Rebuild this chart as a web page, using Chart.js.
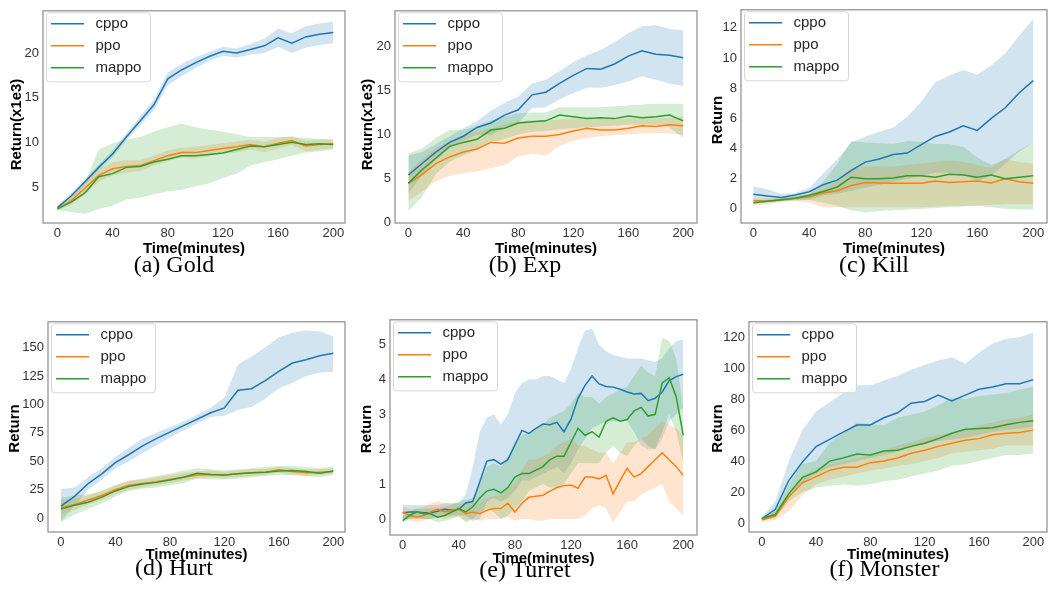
<!DOCTYPE html>
<html><head><meta charset="utf-8">
<script src="https://cdn.jsdelivr.net/npm/chart.js@4.4.1/dist/chart.umd.min.js"></script>
<style>
html,body{margin:0;padding:0;background:#fff;width:1051px;height:592px;overflow:hidden;position:relative}
canvas{position:absolute}
.cap{position:absolute;font-family:"Liberation Serif","Times New Roman",serif;font-size:24px;line-height:1;color:#000;white-space:nowrap;transform:translateX(-50%)}
</style></head><body>
<script>
// ---------------- DATA ----------------
const seriesNames = ['cppo', 'ppo', 'mappo'];
const xTicks = [0, 40, 80, 120, 160, 200];
const minutes = [0,10,20,30,40,50,60,70,80,90,100,110,120,130,140,150,160,170,180,190,200];
const turretMinutes = [0,5,10,15,20,25,30,35,40,45,50,55,60,65,70,75,80,85,90,95,100,105,110,115,120,125,130,135,140,145,150,155,160,165,170,175,180,185,190,195,200];

// (a) Gold
const goldYTicks = [5, 10, 15, 20];
const goldCppo   = [2.7,4.0,5.6,7.2,8.7,10.6,12.4,14.2,17.1,18.1,18.9,19.6,20.2,20.0,20.4,20.8,21.7,21.1,21.8,22.1,22.3];
const goldCppoHi = [2.9,4.3,5.9,7.5,9.1,11.0,12.9,14.8,17.8,18.8,19.5,20.1,20.7,20.5,21.0,21.6,22.7,22.2,23.0,23.3,23.5];
const goldCppoLo = [2.5,3.7,5.3,6.9,8.3,10.2,11.9,13.6,16.4,17.4,18.3,19.1,19.7,19.5,19.8,20.0,20.7,20.0,20.6,20.9,21.1];
const goldPpo    = [2.55,3.45,4.9,6.3,7.05,7.3,7.4,7.95,8.5,8.85,8.85,9.1,9.3,9.5,9.75,9.5,9.9,10.2,9.6,9.75,9.85];
const goldPpoHi  = [2.7,3.9,5.6,7.0,7.8,8.0,8.0,8.5,9.1,9.4,9.5,9.7,9.9,10.1,10.3,10.1,10.5,10.7,10.2,10.3,10.4];
const goldPpoLo  = [2.4,3.0,4.2,5.6,6.3,6.6,6.8,7.4,7.9,8.3,8.2,8.5,8.7,8.9,9.2,8.9,9.3,9.7,9.0,9.2,9.3];
const goldMappo   = [2.55,3.3,4.35,6.15,6.5,7.2,7.3,7.8,8.1,8.5,8.5,8.65,8.8,9.2,9.6,9.5,9.75,10.0,9.75,9.85,9.75];
const goldMappoHi = [2.7,3.8,5.5,9.2,9.9,10.3,10.6,11.2,11.7,12.1,11.7,11.4,11.2,10.9,10.6,10.6,10.6,10.6,10.5,10.4,10.3];
const goldMappoLo = [2.4,2.2,2.0,2.55,2.9,3.6,3.8,4.2,4.5,4.7,5.1,5.4,6.0,6.5,7.4,7.8,8.1,8.5,8.85,9.0,9.2];

// (b) Exp
const expYTicks = [0, 5, 10, 15, 20];
const expCppo   = [5.4,6.7,8.0,9.1,9.8,10.8,11.3,12.2,12.8,14.5,14.8,15.8,16.7,17.5,17.4,18.0,18.9,19.5,19.1,19.0,18.7];
const expCppoHi = [7.6,8.0,8.9,9.8,10.7,11.5,12.7,13.6,14.3,15.8,16.2,17.2,18.2,19.0,19.6,20.5,21.5,22.3,22.4,22.0,21.8];
const expCppoLo = [3.3,5.4,7.1,8.4,9.3,10.0,9.9,10.8,11.3,13.0,13.1,14.0,14.7,15.3,15.3,15.6,16.0,16.6,16.2,15.8,15.5];
const expPpo    = [4.45,5.45,6.7,7.45,8.0,8.35,9.1,9.0,9.6,9.8,9.8,10.0,10.4,10.7,10.5,10.5,10.7,11.0,10.9,11.1,11.0];
const expPpoHi  = [5.8,7.2,8.4,9.2,9.8,10.3,10.7,11.1,11.5,11.6,11.6,11.7,11.8,11.8,11.8,11.8,11.8,11.8,11.8,11.9,12.0];
const expPpoLo  = [2.5,3.5,4.7,5.3,5.6,5.8,6.2,6.5,7.5,7.8,7.6,8.7,9.3,9.6,9.8,9.9,10.0,10.1,10.2,10.1,10.0];
const expMappo   = [4.45,6.0,7.3,8.65,9.1,9.45,10.5,10.7,11.3,11.45,11.55,12.2,12.0,11.8,11.9,11.8,12.1,11.9,12.0,12.2,11.55];
const expMappoHi = [7.8,8.4,9.6,10.5,10.5,11.0,11.6,12.0,12.4,12.5,12.5,13.1,13.1,13.1,13.1,13.2,13.3,13.4,13.5,13.5,13.5];
const expMappoLo = [1.3,2.9,5.5,6.9,7.6,8.2,9.1,9.5,10.0,10.3,10.4,10.6,10.7,10.8,10.9,11.0,11.1,11.1,11.1,10.8,9.6];

// (c) Kill
const killYTicks = [0, 2, 4, 6, 8, 10, 12];
const killCppo   = [0.96,0.85,0.75,0.92,1.13,1.6,1.9,2.55,3.1,3.3,3.6,3.7,4.26,4.8,5.1,5.5,5.2,6.0,6.7,7.7,8.5];
const killCppoHi = [1.5,1.3,1.0,1.05,1.4,2.35,3.3,4.4,4.8,5.1,5.4,6.1,7.1,8.4,8.85,9.2,8.9,9.5,10.3,11.5,12.6];
const killCppoLo = [0.5,0.5,0.5,0.6,0.6,0.9,1.0,1.2,1.4,1.6,1.8,2.0,2.2,2.4,2.4,2.3,1.8,2.2,3.0,3.8,4.4];
const killPpo    = [0.55,0.5,0.6,0.7,0.8,1.05,1.2,1.55,1.75,1.72,1.7,1.7,1.7,1.85,1.75,1.8,1.85,1.72,2.0,1.8,1.7];
const killPpoHi  = [0.7,0.7,0.75,0.8,0.95,1.4,1.8,2.6,2.8,2.8,2.8,2.9,3.0,3.1,3.2,3.1,2.9,2.7,3.3,3.1,3.0];
const killPpoLo  = [0.2,0.3,0.45,0.5,0.4,0.1,0.1,0.1,0.1,0.1,0.1,0.1,0.1,0.15,0.2,0.2,0.2,0.25,0.3,0.3,0.3];
const killMappo   = [0.4,0.5,0.6,0.7,0.9,1.15,1.45,2.1,2.0,2.0,2.05,2.2,2.2,2.1,2.3,2.25,2.1,2.25,2.0,2.1,2.2];
const killMappoHi = [0.5,0.6,0.7,0.85,1.0,1.8,3.0,4.5,4.4,4.35,4.3,4.5,4.45,4.3,4.3,4.1,3.4,2.9,3.3,3.9,4.4];
const killMappoLo = [0.3,0.4,0.5,0.55,0.6,0.4,0.2,-0.1,-0.25,-0.15,-0.1,-0.05,0.0,0.05,0.1,0.15,0.2,0.1,0.0,-0.05,-0.05];

// (d) Hurt
const hurtYTicks = [0, 25, 50, 75, 100, 125, 150];
const hurtCppo   = [10.7,19.2,30.5,39,48.9,56,63.6,70,75.7,81.4,87,92.7,96.9,112.4,113.8,121,129,136.4,139.3,142.7,145];
const hurtCppoHi = [26,27,36,44,54,62,70,75,80,85,91,97,106,135,142,150,159,163,165,164,160];
const hurtCppoLo = [-3,11,25,34,44,50,57,64,71,77,83,89,90,95,98,105,114,119,125,128,128.5];
const hurtPpo    = [9.3,12.1,16,20,25,29,30.5,32,34,36,38,38.5,38,39,40,40.5,42.5,41,40,40.5,41];
const hurtPpoHi  = [16,17,20,24,29,33,34,36,38,40,41,42,41,42,43,43.5,45,44,43,43,44];
const hurtPpoLo  = [3,7,12,16,21,25,27,29,31,33,35,36,35,36,37,38,40,38,37,38,39];
const hurtMappo   = [8,11.5,14,18.5,24,28,30,31.5,33.5,36,39.5,38.5,38,39,40,40.5,41.5,42,41,39.5,41.5];
const hurtMappoHi = [18,20,21,24,29,33,35,37,39,42,44,43,42,43,44,45,46,46,45,44,45.5];
const hurtMappoLo = [-3,3,8,13,19,24,26,27,29,31,35,34,34,35,36,37,38,38,37,36,38];

// (e) Turret
const turretYTicks = [0, 1, 2, 3, 4, 5];
const turretCppo   = [0.18,0.2,0.2,0.18,0.18,0.22,0.28,0.25,0.28,0.46,0.5,1.06,1.66,1.7,1.57,1.7,2.12,2.54,2.45,2.6,2.72,2.7,2.77,2.5,2.86,3.46,3.83,4.1,3.87,3.8,3.78,3.72,3.64,3.58,3.6,3.39,3.46,3.64,3.97,4.08,4.15];
const turretCppoHi = [0.4,0.4,0.4,0.4,0.4,0.4,0.45,0.45,0.45,0.7,1.5,2.5,2.9,3.0,2.7,3.0,3.6,3.9,4.0,4.0,4.1,4.1,4.0,3.9,4.3,4.9,5.4,5.45,5.0,4.8,4.7,4.65,4.6,4.6,4.6,4.55,4.5,4.6,4.9,5.1,5.15];
const turretCppoLo = [0.0,0.0,0.0,0.0,0.0,0.05,0.1,0.1,0.1,0.1,-0.05,0.0,0.5,0.6,0.5,0.6,0.8,1.1,1.1,1.2,1.3,1.4,1.5,1.3,1.6,2.0,2.3,2.6,2.7,2.8,2.8,2.8,2.8,2.5,2.1,2.0,2.0,2.3,2.8,3.0,3.2];
const turretPpo    = [0.2,0.1,0.05,0.1,0.2,0.28,0.2,0.25,0.28,0.15,0.2,0.15,0.25,0.3,0.3,0.45,0.2,0.45,0.62,0.65,0.68,0.8,0.9,0.95,0.97,0.88,1.2,1.2,1.15,1.25,0.72,1.1,1.45,1.2,1.3,1.5,1.7,1.9,1.7,1.5,1.25];
const turretPpoHi  = [0.35,0.3,0.3,0.35,0.45,0.5,0.45,0.45,0.45,0.4,0.45,0.45,0.6,0.65,0.7,0.9,1.0,1.4,1.7,1.7,1.8,1.9,2.1,2.2,2.3,2.1,2.1,2.0,1.9,1.9,1.6,1.9,2.2,2.2,2.3,2.4,2.6,2.8,2.7,2.6,2.4];
const turretPpoLo  = [0.0,-0.05,-0.1,-0.05,0.0,0.05,0.0,0.05,0.05,-0.05,0.0,-0.05,0.0,0.0,0.0,0.05,-0.05,0.0,0.0,-0.05,-0.05,0.0,0.0,0.0,0.0,0.0,0.1,0.3,0.4,0.3,-0.1,0.2,0.5,0.5,0.7,0.8,0.9,1.0,0.5,0.3,0.1];
const turretMappo   = [-0.05,0.1,0.2,0.15,0.15,0.05,0.1,0.2,0.3,0.2,0.35,0.6,0.8,0.85,0.75,0.9,1.2,1.3,1.3,1.4,1.5,1.7,1.8,1.8,2.2,2.6,2.4,2.5,2.35,2.8,2.9,2.8,2.85,3.1,3.2,2.95,3.0,3.9,4.05,3.5,2.4];
const turretMappoHi = [0.1,0.2,0.3,0.3,0.3,0.3,0.35,0.4,0.5,0.55,0.6,1.0,1.5,1.6,1.5,1.8,2.2,2.4,2.5,2.6,2.7,2.9,3.0,3.1,3.3,3.6,3.5,3.5,3.3,3.5,3.6,3.7,3.8,4.1,4.4,4.2,4.1,5.2,5.1,4.6,3.2];
const turretMappoLo = [-0.1,0.0,0.05,0.0,0.0,-0.1,-0.05,0.0,0.1,-0.1,0.0,0.2,0.3,0.2,0.0,0.1,0.3,0.5,0.8,0.9,1.0,0.9,0.9,1.0,1.3,1.6,1.6,1.6,1.6,1.9,2.1,1.9,1.8,2.1,2.3,2.1,2.0,2.5,3.0,2.5,1.6];

// (f) Monster
const monsterYTicks = [0, 20, 40, 60, 80, 100, 120];
const monsterCppo   = [2.7,8.9,27.6,39.4,49.4,54,58.7,63.3,63.3,68,71.2,77.4,78.5,82.6,78.9,82.6,86.4,87.8,89.9,89.9,92.6];
const monsterCppoHi = [3.5,14,40,60,72,78,84,89,89,92,95,99,102,105,107,103,110,116,119,120,123];
const monsterCppoLo = [2,5,18,26,32,36,38,40,42,44,46,49,51,53,54,55,57,59,60,61,62];
const monsterPpo    = [2,4.5,17,26,30,34,36,36,39,40,42,45,47,49.5,51.5,53.5,54.5,57,58,58.5,60];
const monsterPpoHi  = [3,7,20,30,35,38,40,42,44,47,50,52,55,57,58,60,63,65,67,68,70];
const monsterPpoLo  = [1,2,8,18,25,28,30,32,34,35,37,38,40,42,45,46,47,48,50,50,50];
const monsterMappo   = [3,5.5,19,29.5,33,40,42,44.5,44,46.5,47,49.5,51.5,54.5,58,60.5,61,61.5,63.5,65,66];
const monsterMappoHi = [4,8,25,38,40,52,58,65,64,63,68,70,72,76,81,80,82,83,84,86,88];
const monsterMappoLo = [2,3,14,20,23,24,25,24,25,27,28,30,32,34,37,38,40,42,44,44,45];

const captions = ['(a) Gold', '(b) Exp', '(c) Kill', '(d) Hurt', '(e) Turret', '(f) Monster'];

// ---------------- STYLE / LAYOUT ----------------
const lineColors = ['#1f77b4', '#ff7f0e', '#2ca02c'];
const bandColors = ['rgba(31,119,180,0.2)', 'rgba(255,127,14,0.2)', 'rgba(44,160,44,0.2)'];
const SANS = "'Liberation Sans', Arial, Helvetica, sans-serif";

const panels = [
  {L:43, T:3, R:345, B:223, xmin:-10.4, xmax:208.5, ymin:0.975, ymax:24.72, yTicks:goldYTicks, x:minutes,
   yTitle:'Return(x1e3)', ytx:17, yty:124.5, xtPad:15, cap:[174, 252],
   s:[[goldCppo,goldCppoLo,goldCppoHi],[goldPpo,goldPpoLo,goldPpoHi],[goldMappo,goldMappoLo,goldMappoHi]]},
  {L:395, T:3, R:697, B:223, xmin:-9.7, xmax:210, ymin:-0.05, ymax:24.04, yTicks:expYTicks, x:minutes,
   yTitle:'Return(x1e3)', ytx:367.5, yty:124.5, xtPad:15, cap:[525, 252],
   s:[[expCppo,expCppoLo,expCppoHi],[expPpo,expPpoLo,expPpoHi],[expMappo,expMappoLo,expMappoHi]]},
  {L:741, T:2, R:1047, B:223, xmin:-8.8, xmax:209.8, ymin:-0.94, ymax:13.2, yTicks:killYTicks, x:minutes,
   yTitle:'Return', ytx:718, yty:120, xtPad:15, cap:[874, 252],
   s:[[killCppo,killCppoLo,killCppoHi],[killPpo,killPpoLo,killPpoHi],[killMappo,killMappoLo,killMappoHi]]},
  {L:48, T:314, R:345, B:532, xmin:-9.5, xmax:208.6, ymin:-12.1, ymax:172.6, yTicks:hurtYTicks, x:minutes,
   yTitle:'Return', ytx:14.5, yty:428.5, xtPad:18, cap:[174, 555],
   s:[[hurtCppo,hurtCppoLo,hurtCppoHi],[hurtPpo,hurtPpoLo,hurtPpoHi],[hurtMappo,hurtMappoLo,hurtMappoHi]]},
  {L:390, T:312, R:697, B:535, xmin:-9.0, xmax:209.8, ymin:-0.46, ymax:5.71, yTicks:turretYTicks, x:turretMinutes,
   yTitle:'Return', ytx:366.5, yty:429, xtPad:17, cap:[525, 557],
   s:[[turretCppo,turretCppoLo,turretCppoHi],[turretPpo,turretPpoLo,turretPpoHi],[turretMappo,turretMappoLo,turretMappoHi]]},
  {L:749, T:314, R:1047, B:532, xmin:-9.4, xmax:210.1, ymin:-5.8, ymax:129.96, yTicks:monsterYTicks, x:minutes,
   yTitle:'Return', ytx:718, yty:428.5, xtPad:18, cap:[884.5, 556],
   s:[[monsterCppo,monsterCppoLo,monsterCppoHi],[monsterPpo,monsterPpoLo,monsterPpoHi],[monsterMappo,monsterMappoLo,monsterMappoHi]]}
];

const PADL = 45, PADT = 4, PADR = 4, AXH = 50;

function pts(xs, ys) { return xs.map((x, i) => ({x: x, y: ys[i]})); }

const framePlugin = {
  id: 'frameLegend',
  afterDatasetsDraw(chart, args, opts) {
    const ctx = chart.ctx, ca = chart.chartArea;
    ctx.save();
    ctx.strokeStyle = '#8c8c8c';
    ctx.lineWidth = 1.2;
    ctx.strokeRect(ca.left, ca.top, ca.right - ca.left, ca.bottom - ca.top);
    const bx = ca.left + 3, by = ca.top + 1.5, bw = 104, bh = 69;
    ctx.beginPath();
    ctx.roundRect(bx + 0.5, by + 0.5, bw, bh, 3);
    ctx.fillStyle = 'rgba(255,255,255,0.85)';
    ctx.fill();
    ctx.strokeStyle = '#d6d6d6';
    ctx.lineWidth = 1;
    ctx.stroke();
    ctx.font = '15px ' + SANS;
    ctx.textBaseline = 'middle';
    ctx.textAlign = 'left';
    seriesNames.forEach((name, i) => {
      const y = ca.top + 13 + i * 22;
      ctx.strokeStyle = lineColors[i];
      ctx.lineWidth = 1.5;
      ctx.beginPath();
      ctx.moveTo(ca.left + 8, y);
      ctx.lineTo(ca.left + 41, y);
      ctx.stroke();
      ctx.fillStyle = '#262626';
      ctx.fillText(name, ca.left + 52.5, y + 0.5);
    });
    ctx.restore();
  },
  afterDraw(chart, args, opts) {
    const p = opts.panel, ctx = chart.ctx;
    const ox = p.L - PADL, oy = p.T - PADT;
    ctx.save();
    ctx.translate(p.ytx - ox, p.yty - oy);
    ctx.rotate(-Math.PI / 2);
    ctx.font = 'bold 15px ' + SANS;
    ctx.fillStyle = '#000';
    ctx.textAlign = 'center';
    ctx.textBaseline = 'middle';
    ctx.fillText(p.yTitle, 0, 0);
    ctx.restore();
  }
};

panels.forEach((p, idx) => {
  const cv = document.createElement('canvas');
  const w = Math.round(p.R - p.L + PADL + PADR), h = Math.round(p.B - p.T + PADT + AXH);
  cv.width = w; cv.height = h;
  cv.style.width = w + 'px'; cv.style.height = h + 'px';
  cv.style.left = (p.L - PADL) + 'px'; cv.style.top = (p.T - PADT) + 'px';
  document.body.appendChild(cv);

  const datasets = [];
  [2, 1, 0].forEach(k => {
    const [mean, lo, hi] = p.s[k];
    datasets.push({label: seriesNames[k] + ' lower', data: pts(p.x, lo), borderWidth: 0, pointRadius: 0, fill: false, borderColor: 'rgba(0,0,0,0)'});
    datasets.push({label: seriesNames[k] + ' upper', data: pts(p.x, hi), borderWidth: 0, pointRadius: 0, fill: '-1', backgroundColor: bandColors[k], borderColor: 'rgba(0,0,0,0)'});
    datasets.push({label: seriesNames[k], data: pts(p.x, mean), borderWidth: 1.5, pointRadius: 0, fill: false, borderColor: lineColors[k], tension: 0});
  });

  new Chart(cv, {
    type: 'line',
    data: {datasets},
    options: {
      responsive: false, animation: false, devicePixelRatio: 1,
      layout: {padding: {left: 0, top: PADT, right: PADR, bottom: 0}},
      plugins: {legend: {display: false}, tooltip: {enabled: false}, filler: {drawTime: 'beforeDatasetsDraw'}, frameLegend: {panel: p}},
      scales: {
        x: {
          type: 'linear', min: p.xmin, max: p.xmax,
          grid: {display: false, drawTicks: false}, border: {display: false},
          afterBuildTicks: s => { s.ticks = xTicks.map(v => ({value: v})); },
          afterFit: s => { s.height = AXH; },
          ticks: {padding: 3, color: '#333', font: {family: SANS, size: 13}, maxRotation: 0, autoSkip: false},
          title: {display: true, text: 'Time(minutes)', color: '#000', font: {family: SANS, size: 15, weight: 'bold'}, padding: {top: 0, bottom: p.xtPad}}
        },
        y: {
          type: 'linear', min: p.ymin, max: p.ymax,
          grid: {display: false, drawTicks: false}, border: {display: false},
          afterBuildTicks: s => { s.ticks = p.yTicks.map(v => ({value: v})); },
          afterFit: s => { s.width = PADL; },
          ticks: {padding: 4, color: '#333', font: {family: SANS, size: 13}, autoSkip: false}
        }
      }
    },
    plugins: [framePlugin]
  });

  const cap = document.createElement('div');
  cap.className = 'cap';
  cap.textContent = captions[idx];
  cap.style.left = p.cap[0] + 'px';
  cap.style.top = p.cap[1] + 'px';
  document.body.appendChild(cap);
});
</script>
</body></html>
